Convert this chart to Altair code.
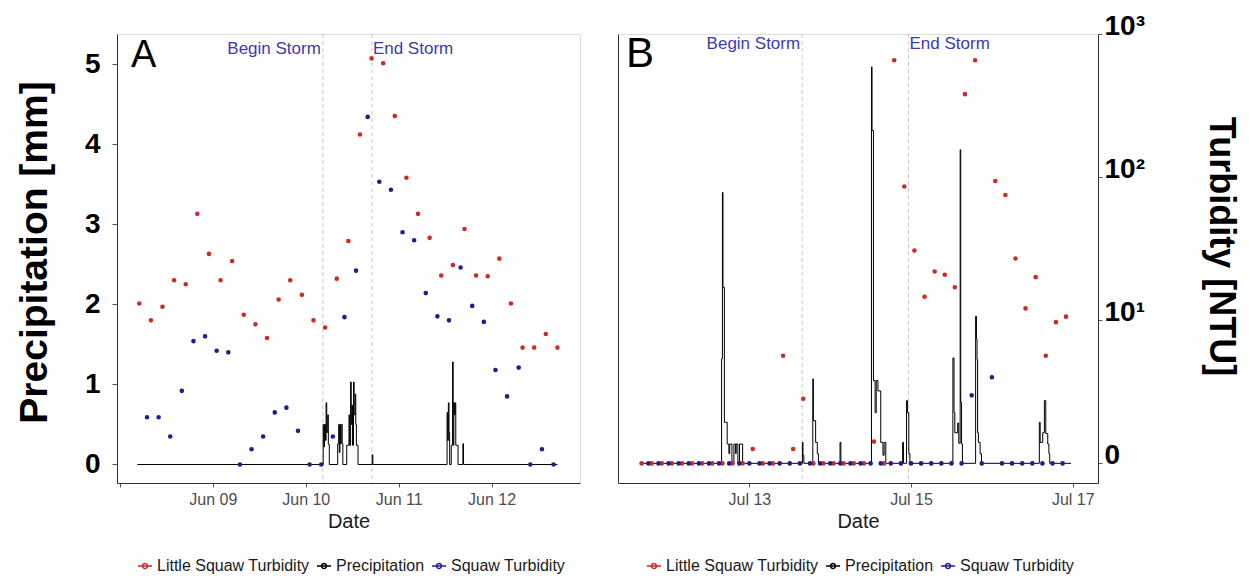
import altair as alt
import pandas as pd

# ---------------- Panel A (June storm) ----------------
a_little_start = "2019-06-08 05:00"   # 3-hourly samples
a_little_turb = [2.01, 1.80, 1.97, 2.30, 2.25, 3.13, 2.63, 2.30, 2.54, 1.87, 1.75, 1.58,
                 2.06, 2.30, 2.12, 1.80, 1.71, 2.32, 2.79, 4.12, 5.07, 5.01, 4.35, 3.58,
                 3.13, 2.83, 2.36, 2.49, 2.94, 2.36, 2.35, 2.57, 2.01, 1.46, 1.46, 1.63, 1.46]
a_squaw_start = "2019-06-08 07:00"
a_squaw_turb = [0.59, 0.59, 0.35, 0.92, 1.54, 1.60, 1.42, 1.40, 0.00, 0.19, 0.35, 0.65,
                0.71, 0.42, 0.00, 0.00, 0.35, 1.84, 2.42, 4.34, 3.53, 3.43, 2.90, 2.80,
                2.14, 1.85, 1.80, 2.46, 1.98, 1.78, 1.18, 0.85, 1.21, 0.00, 0.19, 0.00]
a_precip_time = ["2019-06-08 04:30",
                 "2019-06-10 04:30", "2019-06-10 04:40", "2019-06-10 04:50", "2019-06-10 05:05",
                 "2019-06-10 05:15", "2019-06-10 05:25", "2019-06-10 05:40", "2019-06-10 05:50",
                 "2019-06-10 06:05", "2019-06-10 08:15", "2019-06-10 08:30", "2019-06-10 08:40",
                 "2019-06-10 08:50", "2019-06-10 09:00", "2019-06-10 09:10", "2019-06-10 09:25",
                 "2019-06-10 09:35", "2019-06-10 10:35", "2019-06-10 11:10", "2019-06-10 11:20",
                 "2019-06-10 11:35", "2019-06-10 11:45", "2019-06-10 11:55", "2019-06-10 12:05",
                 "2019-06-10 12:20", "2019-06-10 12:30", "2019-06-10 12:45", "2019-06-10 12:55",
                 "2019-06-10 13:05", "2019-06-10 13:30", "2019-06-10 17:10", "2019-06-10 17:20",
                 "2019-06-11 12:30", "2019-06-11 12:40", "2019-06-11 12:50", "2019-06-11 13:00",
                 "2019-06-11 13:10", "2019-06-11 13:35", "2019-06-11 13:55", "2019-06-11 14:05",
                 "2019-06-11 14:15", "2019-06-11 14:25", "2019-06-11 14:35", "2019-06-11 14:45",
                 "2019-06-11 15:20", "2019-06-11 16:35", "2019-06-11 16:45", "2019-06-12 17:00"]
a_precip_mm = [0,
               0.50, 0.22, 0.50, 0.30,
               0.77, 0.40, 0.62, 0.25,
               0, 0.26, 0.50, 0.15,
               0.50, 0.26, 0.50, 0.26,
               0, 0.24, 0.62, 0.24,
               1.03, 0.50, 0.74, 0.24,
               1.03, 0.62, 0.88, 0.50,
               0.24, 0, 0.12, 0,
               0.65, 0.30, 0.77, 0.40,
               0, 0.24, 1.28, 0.24,
               0.77, 0.62, 0.77, 0.24,
               0, 0.26, 0, 0]
a_storm_time = ["2019-06-10 04:25", "2019-06-10 17:05"]

# ---------------- Panel B (July storm) ----------------
b_little_start = "2019-07-11 16:00"   # 3-hourly samples, NTU
b_little_ntu = [0, 0, 0, 0, 0, 0, 0, 0, 0, 0, 0,
                1.26, 0, 0, 5.65, 1.26, 2.83,
                0, 0, 0, 0, 0, 0, 1.42, 0,
                656, 86, 30.7, 14.6, 21.9, 20.8, 17.0, 380, 656,
                None, 94, 75, 27, 12.1, 20.0, 5.65, 9.7, 10.6]
b_squaw_start = "2019-07-11 18:00"
b_squaw_ntu = [0, 0, 0, 0, 0, 0, 0, 0, 0, 0, 0, 0, 0, 0, 0, 0, 0, 0, 0, 0, 0,
               0, 0, 0, 0, 0, 0, 0, 0, 0, 0, 0, 2.99, 0, 4.0, 0, 0, 0, 0, 0, 0, 0]
b_precip_time = ["2019-07-11 15:30",
                 "2019-07-12 15:45", "2019-07-12 16:00", "2019-07-12 16:10", "2019-07-12 16:35",
                 "2019-07-12 17:25", "2019-07-12 17:55", "2019-07-12 18:10", "2019-07-12 18:50",
                 "2019-07-12 19:25", "2019-07-12 19:55", "2019-07-12 20:05", "2019-07-12 20:35",
                 "2019-07-12 21:05", "2019-07-12 22:00",
                 "2019-07-13 15:45", "2019-07-13 15:55", "2019-07-13 16:10",
                 "2019-07-13 18:50", "2019-07-13 19:00", "2019-07-13 19:40", "2019-07-13 20:10",
                 "2019-07-13 20:30", "2019-07-14 02:55", "2019-07-14 03:10",
                 "2019-07-14 12:15", "2019-07-14 12:25", "2019-07-14 12:50", "2019-07-14 13:20",
                 "2019-07-14 13:40", "2019-07-14 14:10", "2019-07-14 15:00", "2019-07-14 15:40",
                 "2019-07-14 16:00", "2019-07-14 16:30",
                 "2019-07-14 21:30", "2019-07-14 21:45", "2019-07-14 22:40", "2019-07-14 22:55",
                 "2019-07-14 23:20", "2019-07-14 23:40",
                 "2019-07-15 12:25", "2019-07-15 12:45", "2019-07-15 13:00", "2019-07-15 13:50",
                 "2019-07-15 14:10", "2019-07-15 14:35", "2019-07-15 14:45", "2019-07-15 15:00",
                 "2019-07-15 15:15",
                 "2019-07-15 19:10", "2019-07-15 19:25", "2019-07-15 19:35", "2019-07-15 19:45",
                 "2019-07-15 20:00", "2019-07-15 20:30", "2019-07-15 20:55",
                 "2019-07-16 14:05", "2019-07-16 14:20", "2019-07-16 15:05", "2019-07-16 15:35",
                 "2019-07-16 16:00", "2019-07-16 16:35", "2019-07-16 16:55", "2019-07-16 17:10",
                 "2019-07-16 23:30"]
b_precip_mm = [0,
               1.30, 3.37, 2.19, 0.51,
               0.24, 0.12, 0.24, 0,
               0.24, 0.12, 0.24, 0,
               0.24, 0,
               0.26, 0.10, 0,
               1.05, 0.53, 0.26, 0.12,
               0, 0.26, 0,
               4.93, 4.14, 1.03, 0.63,
               1.03, 0.90, 0.26, 0.10,
               0.26, 0,
               0.26, 0, 0.78, 0.63,
               0.12, 0,
               1.31, 0.63, 0.38, 0.50,
               0.25, 3.90, 0.76, 0.24,
               0,
               1.83, 1.55, 1.29, 0.38,
               0.26, 0.12, 0,
               0.51, 0.26, 0.38, 0.78,
               0.37, 0.24, 0.12, 0,
               0]
b_storm_time = ["2019-07-13 15:40", "2019-07-14 23:15"]

SERIES = ["Little Squaw Turbidity", "Precipitation", "Squaw Turbidity"]
COLORS = ["#cc2b2b", "#000000", "#1f1f8c"]
STORM_COLOR = "#3c3caa"
FONT = "Liberation Sans"
SYM = "M-1,0L1,0M-0.35,0a0.35,0.35 0 1,0 0.7,0a0.35,0.35 0 1,0 -0.7,0"

H = 449
WA = 463
WB = 480


def pts(start, values, series):
    t = pd.date_range(start, periods=len(values), freq="3h")
    df = pd.DataFrame({"t": t, "v": values, "series": series})
    return df.dropna()


def precip_df(times, vals):
    return pd.DataFrame({"t": pd.to_datetime(times), "v": vals, "series": "Precipitation"})


def color_enc(lx):
    return alt.Color(
        "series:N",
        scale=alt.Scale(domain=SERIES, range=COLORS),
        legend=alt.Legend(orient="none", legendX=lx, legendY=524, direction="horizontal",
                          title=None, padding=0,
                          symbolType=SYM, symbolSize=200, symbolStrokeWidth=1.5,
                          labelFontSize=16, labelFont=FONT, labelColor="#1a1a1a",
                          columnPadding=3, labelOffset=4, labelLimit=400),
    )


def x_enc(d0, d1, ticks, hide_first):
    lab = "timeFormat(datum.value, '%b %d')"
    if hide_first:
        lab = "timeFormat(datum.value, '%d') == '08' ? '' : " + lab
    return alt.X("t:T", scale=alt.Scale(domain=[d0, d1]),
                 axis=alt.Axis(values=ticks, labelExpr=lab, title="Date", grid=False,
                               labelFont=FONT, labelFontSize=16, labelColor="#4d4d4d",
                               titleFont=FONT, titleFontSize=20, titleFontWeight="normal",
                               titleColor="#1a1a1a", titlePadding=4,
                               tickSize=4, tickColor="#555", domainColor="#333",
                               labelPadding=4, labelFlush=False))


def storm_layers(x, storm_time, ytext):
    sdf = pd.DataFrame({"t": pd.to_datetime(storm_time), "label": ["Begin Storm", "End Storm"]})
    rules = alt.Chart(sdf).mark_rule(color="#c8c8c8", strokeDash=[4, 3], strokeWidth=1).encode(x=x)
    begin = alt.Chart(sdf.iloc[[0]]).mark_text(align="right", dx=-2, baseline="middle",
                                               font=FONT, fontSize=17, color=STORM_COLOR).encode(
        x=x, y=alt.value(ytext), text="label:N")
    end = alt.Chart(sdf.iloc[[1]]).mark_text(align="left", dx=1, baseline="middle",
                                             font=FONT, fontSize=17, color=STORM_COLOR).encode(
        x=x, y=alt.value(ytext), text="label:N")
    return rules, begin, end


def point_mark():
    return dict(filled=False, size=5, strokeWidth=2.4, opacity=1)


# ---------- Panel A ----------
xA = x_enc(alt.DateTime(year=2019, month=6, date=7, hours=23, minutes=15),
           alt.DateTime(year=2019, month=6, date=12, hours=22, minutes=50),
           [alt.DateTime(year=2019, month=6, date=d) for d in range(8, 13)], True)
yA = alt.Y("v:Q", scale=alt.Scale(domain=[-0.231, 5.375], nice=False, zero=False),
           axis=alt.Axis(values=[0, 1, 2, 3, 4, 5], title="Precipitation [mm]", grid=False,
                         titleFont=FONT, titleFontSize=39, titleFontWeight="bold", titleColor="#000",
                         labelFont=FONT, labelFontSize=28, labelFontWeight="bold", labelColor="#000",
                         tickSize=5, tickColor="#555", domainColor="#333", labelPadding=12,
                         titlePadding=30, titleX=-62.6, titleY=218))
cA = color_enc(20)

a_pts = pd.concat([pts(a_little_start, a_little_turb, SERIES[0]),
                   pts(a_squaw_start, a_squaw_turb, SERIES[2])])
lineA = alt.Chart(precip_df(a_precip_time, a_precip_mm)).mark_line(
    interpolate="step-after", strokeWidth=1).encode(x=xA, y=yA, color=cA)
pointsA = alt.Chart(a_pts).mark_point(**point_mark()).encode(x=xA, y=yA, color=cA)
rA, bA, eA = storm_layers(xA, a_storm_time, 15)
labA = alt.Chart(pd.DataFrame({"p": ["A"]})).mark_text(
    align="left", baseline="alphabetic", font=FONT, fontSize=38, color="#000").encode(
    x=alt.value(14), y=alt.value(33), text="p:N")
panelA = alt.layer(rA, lineA, pointsA, bA, eA, labA).properties(width=WA, height=H)

# ---------- Panel B ----------
xB = x_enc(alt.DateTime(year=2019, month=7, date=11, hours=9),
           alt.DateTime(year=2019, month=7, date=17, hours=7, minutes=30),
           [alt.DateTime(year=2019, month=7, date=d) for d in (13, 15, 17)], False)
yBp = alt.Y("v:Q", scale=alt.Scale(domain=[-0.245, 5.34], nice=False, zero=False),
            axis=alt.Axis(orient="left", labels=False, ticks=False, title=None, grid=False,
                          domainColor="#333"))
yBt = alt.Y("lt:Q", scale=alt.Scale(domain=[-0.137, 3.0], nice=False, zero=False),
            axis=alt.Axis(orient="right", values=[0, 1, 2, 3], grid=False,
                          labelExpr="datum.value == 0 ? '0' : datum.value == 1 ? '10\u00b9' : datum.value == 2 ? '10\u00b2' : '10\u00b3'",
                          labelFont=FONT, labelFontSize=28, labelFontWeight="bold", labelColor="#000",
                          labelOffset=-8, tickSize=4, tickColor="#555", domainColor="#333",
                          labelPadding=2, title="Turbidity [NTU]", titleFont=FONT,
                          titleFontSize=36, titleFontWeight="bold", titleColor="#000",
                          titlePadding=56, titleX=103, titleY=212))
cB = color_enc(28)

b_pts = pd.concat([pts(b_little_start, b_little_ntu, SERIES[0]),
                   pts(b_squaw_start, b_squaw_ntu, SERIES[2])])
b_pts = b_pts.rename(columns={"v": "ntu"})
lineB = alt.Chart(precip_df(b_precip_time, b_precip_mm)).mark_line(
    interpolate="step-after", strokeWidth=1).encode(x=xB, y=yBp, color=cB)
pointsB = alt.Chart(b_pts).transform_calculate(
    lt="datum.ntu > 1 ? log(datum.ntu) / LN10 : 0").mark_point(**point_mark()).encode(
    x=xB, y=yBt, color=cB)
rB, bB, eB = storm_layers(xB, b_storm_time, 10)
labB = alt.Chart(pd.DataFrame({"p": ["B"]})).mark_text(
    align="left", baseline="alphabetic", font=FONT, fontSize=42, color="#000").encode(
    x=alt.value(8), y=alt.value(33), text="p:N")
panelB = alt.layer(rB, lineB, bB, eB, labB, pointsB).resolve_scale(y="independent").properties(
    width=WB, height=H)

chart = alt.hconcat(panelA, panelB, spacing=36).resolve_scale(
    color="independent").resolve_legend(color="independent").properties(
    padding={"left": 14, "top": 11, "right": 5, "bottom": 5}
).configure_view(stroke="#e8e8e8").configure(background="white")

chart.save("out.html", embed_options={"renderer": "svg", "actions": False})
